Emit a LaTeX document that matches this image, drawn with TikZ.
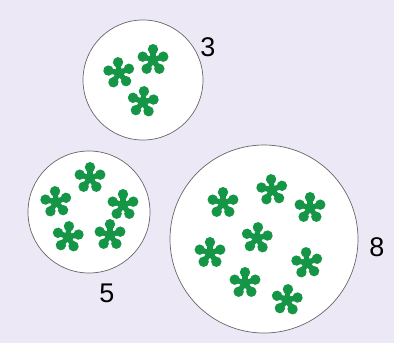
\documentclass[tikz,border=0pt]{standalone}
\usepackage{fontspec}
\setmainfont{Liberation Sans}
\definecolor{bgpurple}{RGB}{236,232,246}
\definecolor{leafgreen}{RGB}{20,150,70}
\tikzset{
  flower/.pic={
    \fill[leafgreen] (0,0) circle (5.2);
    \foreach \a in {-90,-18,54,126,198} {
      \draw[leafgreen, line width=5.4, line cap=round] (0,0) -- (\a:10);
      \fill[leafgreen] (\a:10.8) circle (5.2);
    }
  },
  bag/.style={draw=black!60, line width=0.7pt, fill=white, circle, inner sep=0pt},
  count/.style={font=\fontsize{27}{27}\selectfont}
}
\begin{document}
\begin{tikzpicture}[x=1pt,y=-1pt]
\fill[bgpurple] (0,0) rectangle (394,343);
\useasboundingbox (0,0) rectangle (394,343);
% the three sets
\node[bag, minimum size=120] (bagA) at (143,80) {};
\node[bag, minimum size=122] (bagB) at (89,212) {};
\node[bag, minimum size=188] (bagC) at (264,239) {};
% counts
\node[count] (numA) at (208,47) {3};
\node[count] (numB) at (107,293) {5};
\node[count] (numC) at (377,247) {8};
% flowers in bagA
\pic[rotate=5] at (119,73) {flower};
\pic at (153,60) {flower};
\pic[rotate=-5] at (143,102) {flower};
% flowers in bagB
\pic at (90,178) {flower};
\pic[rotate=5] at (56,202) {flower};
\pic at (123,205) {flower};
\pic[rotate=-5] at (68,237) {flower};
\pic at (110,235) {flower};
% flowers in bagC
\pic at (223,203) {flower};
\pic[rotate=5] at (272,190) {flower};
\pic at (310,208) {flower};
\pic[rotate=-5] at (257,238) {flower};
\pic at (210,253) {flower};
\pic[rotate=5] at (307,263) {flower};
\pic at (245,283) {flower};
\pic[rotate=-5] at (287,300) {flower};
\end{tikzpicture}
\end{document}
